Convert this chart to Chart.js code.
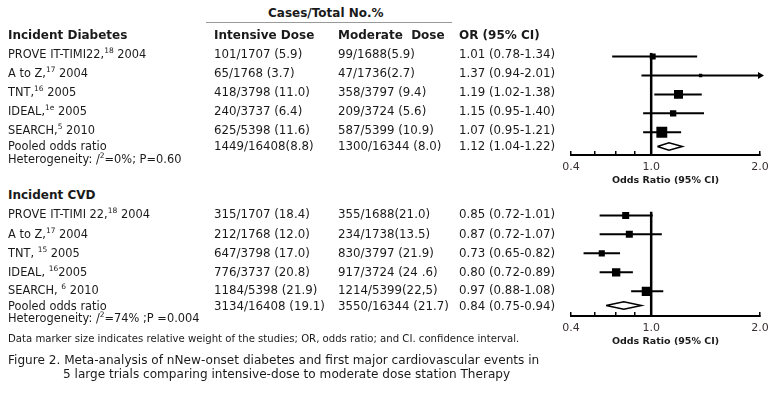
<!DOCTYPE html>
<html><head><meta charset="utf-8">
<script src="https://cdn.jsdelivr.net/npm/chart.js@4"></script>
<style>
body{margin:0;width:774px;height:393px;background:#fff;position:relative;overflow:hidden;font-family:"DejaVu Sans",Verdana,sans-serif;color:#1a1a1a}
.t{position:absolute;white-space:nowrap;font-size:11.8px;line-height:14px}
.b{font-weight:bold;font-size:12px}
.lab{font-size:11.4px}
sup{font-size:7.5px;line-height:0;vertical-align:5px}
.plot{position:absolute;left:552px;width:227px}
</style></head><body>
<div class="plot" style="top:45px;height:150px"><canvas id="dmChart"></canvas></div>
<div class="plot" style="top:205px;height:151px"><canvas id="cvdChart"></canvas></div>
<script>
// axis
const tickValues = [0.6, 0.7, 0.8, 0.9, 1.0, 2.0];
const tickLabels = ['0.4', '', '', '', '1.0', '2.0'];
const xMin = 0.6, xMax = 2.0;

// incident diabetes
const dmStudies = ['PROVE IT-TIMI22,<sup>18</sup> 2004', 'A to Z,<sup>17</sup> 2004', 'TNT,<sup>16</sup> 2005', 'IDEAL,<sup>1e</sup> 2005', 'SEARCH,<sup>5</sup> 2010'];
const dmIntensive = ['101/1707 (5.9)', '65/1768 (3.7)', '418/3798 (11.0)', '240/3737 (6.4)', '625/5398 (11.6)'];
const dmModerate = ['99/1688(5.9)', '47/1736(2.7)', '358/3797 (9.4)', '209/3724 (5.6)', '587/5399 (10.9)'];
const dmOR = [1.01, 1.37, 1.19, 1.15, 1.07];
const dmLo = [0.78, 0.94, 1.02, 0.95, 0.95];
const dmHi = [1.34, 2.01, 1.38, 1.40, 1.21];
const dmWeight = [12, 4, 28, 14, 41];
const dmPooled = {intensive: '1449/16408(8.8)', moderate: '1300/16344 (8.0)', or: 1.12, lo: 1.04, hi: 1.22};
const dmHet = 'Heterogeneity: /<sup>2</sup>=0%; P=0.60';

// incident CVD
const cvdStudies = ['PROVE IT-TIMI 22,<sup>18</sup> 2004', 'A to Z,<sup>17</sup> 2004', 'TNT, <sup>15</sup> 2005', 'IDEAL, <sup>16</sup>2005', 'SEARCH, <sup>6</sup> 2010'];
const cvdIntensive = ['315/1707 (18.4)', '212/1768 (12.0)', '647/3798 (17.0)', '776/3737 (20.8)', '1184/5398 (21.9)'];
const cvdModerate = ['355/1688(21.0)', '234/1738(13.5)', '830/3797 (21.9)', '917/3724 (24 .6)', '1214/5399(22,5)'];
const cvdOR = [0.85, 0.87, 0.73, 0.80, 0.97];
const cvdLo = [0.72, 0.72, 0.65, 0.72, 0.88];
const cvdHi = [1.01, 1.07, 0.82, 0.89, 1.08];
const cvdWeight = [17, 17, 13, 24, 30];
const cvdPooled = {intensive: '3134/16408 (19.1)', moderate: '3550/16344 (21.7)', or: 0.84, lo: 0.75, hi: 0.94};
const cvdHet = 'Heterogeneity: /<sup>2</sup>=74% ;P =0.004';

function put(html, x, y, cls, size) {
  const d = document.createElement('div');
  d.className = 't ' + (cls || '');
  d.style.left = x + 'px'; d.style.top = (y - 7) + 'px';
  if (size) d.style.fontSize = size + 'px';
  d.innerHTML = html;
  document.body.appendChild(d);
}
const fmt = (o, l, h) => `${o.toFixed(2)} (${l.toFixed(2)}-${h.toFixed(2)})`;

function table(title, titleY, rowsY, pooledY, hetY, studies, inten, mod, or, lo, hi, pooled, het) {
  put(title, 8, titleY, 'b');
  studies.forEach((s, i) => {
    put(s, 8, rowsY[i], 'lab'); put(inten[i], 214, rowsY[i]); put(mod[i], 338, rowsY[i]); put(fmt(or[i], lo[i], hi[i]), 459, rowsY[i]);
  });
  put('Pooled odds ratio', 8, pooledY, 'lab'); put(pooled.intensive, 214, pooledY); put(pooled.moderate, 338, pooledY);
  put(fmt(pooled.or, pooled.lo, pooled.hi), 459, pooledY);
  put(het, 8, hetY, 'lab');
}

// header
put('Cases/Total No.%', 268, 13, 'b');
const hl = document.createElement('div');
hl.style.cssText = 'position:absolute;left:206px;top:22px;width:246px;border-top:1px solid #999';
document.body.appendChild(hl);
put('Intensive Dose', 214, 35, 'b'); put('Moderate&nbsp; Dose', 338, 35, 'b'); put('OR (95% CI)', 459, 35, 'b');

table('Incident Diabetes', 35, [54, 73, 92, 111, 130], 146, 159, dmStudies, dmIntensive, dmModerate, dmOR, dmLo, dmHi, dmPooled, dmHet);
table('Incident CVD', 195, [214, 234, 253, 272, 290], 306, 318, cvdStudies, cvdIntensive, cvdModerate, cvdOR, cvdLo, cvdHi, cvdPooled, cvdHet);

put('Data marker size indicates relative weight of the studies; OR, odds ratio; and CI. confidence interval.', 8, 339, '', 10.15);
put('Figure 2. Meta-analysis of nNew-onset diabetes and first major cardiovascular events in', 8, 360, '', 12.1);
put('5 large trials comparing intensive-dose to moderate dose station Therapy', 63, 374, '', 12.1);

function makeForest(id, or, lo, hi, weight, pooled, yMax) {
  const n = or.length, py = n - 0.25, dh = 0.2;
  const line = (pts, w) => ({data: pts, showLine: true, borderColor: '#000', borderWidth: w, pointRadius: 0, tension: 0});
  const datasets = [line([{x: 1, y: -0.2}, {x: 1, y: yMax}], 2.5)];
  or.forEach((o, i) => datasets.push(line([{x: lo[i], y: i}, {x: hi[i], y: i}], 2)));
  datasets.push({data: or.map((o, i) => hi[i] > xMax ? {x: xMax, y: i} : null).filter(Boolean),
    pointStyle: 'triangle', pointRotation: 90, pointRadius: 4, backgroundColor: '#000', pointBorderWidth: 0, clip: false});
  datasets.push({data: or.map((o, i) => ({x: o, y: i})), pointStyle: 'rect',
    pointRadius: weight.map(w => 1.7 * Math.sqrt(w) / Math.SQRT2), backgroundColor: '#000', pointBorderWidth: 0});
  datasets.push(line([{x: pooled.lo, y: py}, {x: pooled.or, y: py - dh}, {x: pooled.hi, y: py}, {x: pooled.or, y: py + dh}, {x: pooled.lo, y: py}], 1.5));
  return new Chart(document.getElementById(id).getContext('2d'), {
    type: 'scatter', data: {datasets},
    options: {
      responsive: true, maintainAspectRatio: false, animation: false,
      layout: {padding: {left: 19, right: 19, top: 5, bottom: 0}},
      plugins: {legend: {display: false}, tooltip: {enabled: false}},
      scales: {
        x: {type: 'logarithmic', min: xMin, max: xMax,
          afterBuildTicks: s => { s.ticks = tickValues.map(v => ({value: v})); },
          afterFit: s => { s.height = 40; },
          ticks: {callback: (v, i) => tickLabels[i], autoSkip: false, maxRotation: 0, padding: 10, color: '#3a3030', font: {family: 'DejaVu Sans', size: 11}},
          grid: {drawOnChartArea: false, tickLength: -4, color: '#000', lineWidth: 1.5},
          border: {color: '#000', width: 2},
          title: {display: true, text: 'Odds Ratio (95% CI)', color: '#1a1a1a', font: {family: 'DejaVu Sans', size: 9.5, weight: 'bold'}, padding: {top: 2, bottom: 9}}},
        y: {type: 'linear', min: -0.2, max: yMax, reverse: true, display: false}
      }
    }
  });
}

makeForest('dmChart', dmOR, dmLo, dmHi, dmWeight, dmPooled, 5.2);
makeForest('cvdChart', cvdOR, cvdLo, cvdHi, cvdWeight, cvdPooled, 5.3);
</script>
</body></html>
